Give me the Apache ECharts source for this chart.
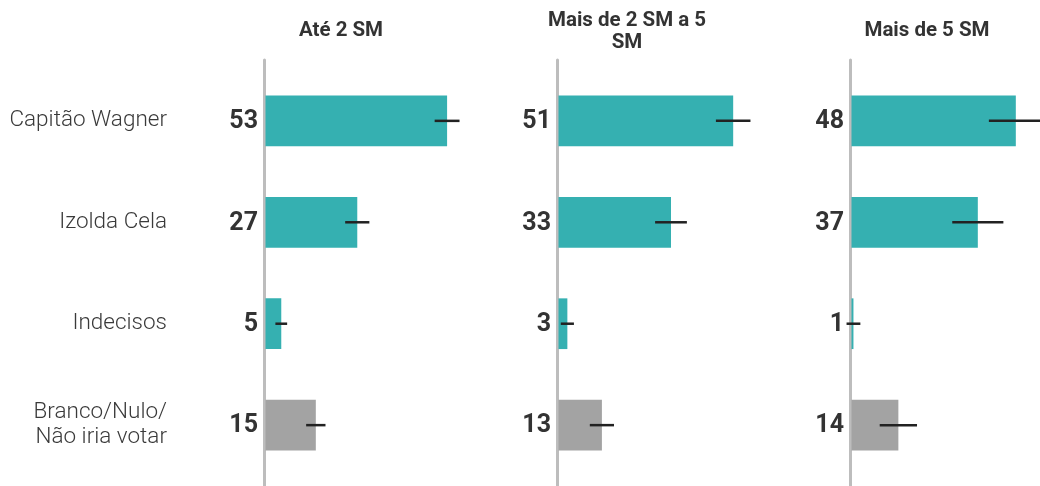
<!DOCTYPE html>
<html>
<head>
<meta charset="utf-8">
<script src="https://cdn.jsdelivr.net/npm/echarts@6/dist/echarts.min.js"></script>
<style>
html,body{margin:0;padding:0;background:#fff;}
#chart{width:1040px;height:486px;}
</style>
</head>
<body>
<div id="chart"></div>
<script>
const categories = ['Capitão Wagner', 'Izolda Cela', 'Indecisos', 'Branco/Nulo/\nNão iria votar'];
const groups = ['Até 2 SM', 'Mais de 2 SM a 5\nSM', 'Mais de 5 SM'];
const valuesAte2 = [53, 27, 5, 15];
const values2a5 = [51, 33, 3, 13];
const valuesMais5 = [48, 37, 1, 14];
const marginAte2 = [3.6, 3.5, 1.7, 2.8];
const margin2a5 = [5.0, 4.6, 1.9, 3.5];
const marginMais5 = [7.8, 7.4, 2.0, 5.4];

const panelValues = [valuesAte2, values2a5, valuesMais5];
const panelMargins = [marginAte2, margin2a5, marginMais5];

const gridLefts = [264, 557, 850];
const titleCenters = [336, 622, 922];
const TEAL = '#35b0b1';
const GRAY = '#a3a3a3';

const chart = echarts.init(document.getElementById('chart'));

const grids = [], xAxes = [], yAxes = [], series = [], titles = [];
panelValues.forEach((vals, p) => {
  grids.push({left: gridLefts[p], top: 60, width: 190, height: 426});
  xAxes.push({type: 'value', gridIndex: p, min: 0, max: 55, show: false});
  yAxes.push({
    type: 'value', gridIndex: p, inverse: true, min: -0.6, max: 3.6,
    axisLine: {show: true, lineStyle: {color: '#bdbdbd', width: 3}},
    axisTick: {show: false},
    splitLine: {show: false},
    axisLabel: p === 0 ? {
      show: true,
      customValues: [0, 1, 2, 3],
      formatter: v => categories[Math.round(v)] || '',
      margin: 97,
      align: 'right',
      fontFamily: 'Roboto',
      fontWeight: 300,
      fontSize: 22.5,
      lineHeight: 25,
      color: '#3a3a3a'
    } : {show: false}
  });
  titles.push({
    text: groups[p],
    left: titleCenters[p],
    top: groups[p].indexOf('\n') >= 0 ? 5 : 15,
    textAlign: 'center',
    textStyle: {fontFamily: 'Roboto', fontWeight: 'bold', fontSize: 20.5, lineHeight: 22, color: '#333'}
  });
  const data = vals.map((v, i) => [v, i, panelMargins[p][i]]);
  series.push({
    type: 'custom',
    xAxisIndex: p, yAxisIndex: p,
    data: data,
    encode: {x: 0, y: 1},
    clip: false,
    renderItem: function (params, api) {
      const v = api.value(0), i = api.value(1), m = api.value(2);
      const p0 = api.coord([0, i]);
      const p1 = api.coord([v, i]);
      const lo = api.coord([v - m, i]);
      const hi = api.coord([v + m, i]);
      const h = api.size([0, 1])[1] * 0.5;
      return {
        type: 'group',
        children: [
          {type: 'rect', shape: {x: p0[0] + 1.5, y: p0[1] - h / 2, width: p1[0] - p0[0] - 1.5, height: h},
           style: {fill: i === 3 ? GRAY : TEAL}},
          {type: 'line', shape: {x1: lo[0], y1: lo[1], x2: hi[0], y2: hi[1]},
           style: {stroke: '#222', lineWidth: 2.5}},
          {type: 'text', x: p0[0] - 6, y: p0[1] + 1,
           style: {text: String(v), align: 'right', verticalAlign: 'middle',
                   fontFamily: 'Roboto', fontWeight: 'bold', fontSize: 25, fill: '#333'}}
        ]
      };
    }
  });
});

chart.setOption({
  animation: false,
  title: titles,
  grid: grids,
  xAxis: xAxes,
  yAxis: yAxes,
  series: series
});
</script>
</body>
</html>
